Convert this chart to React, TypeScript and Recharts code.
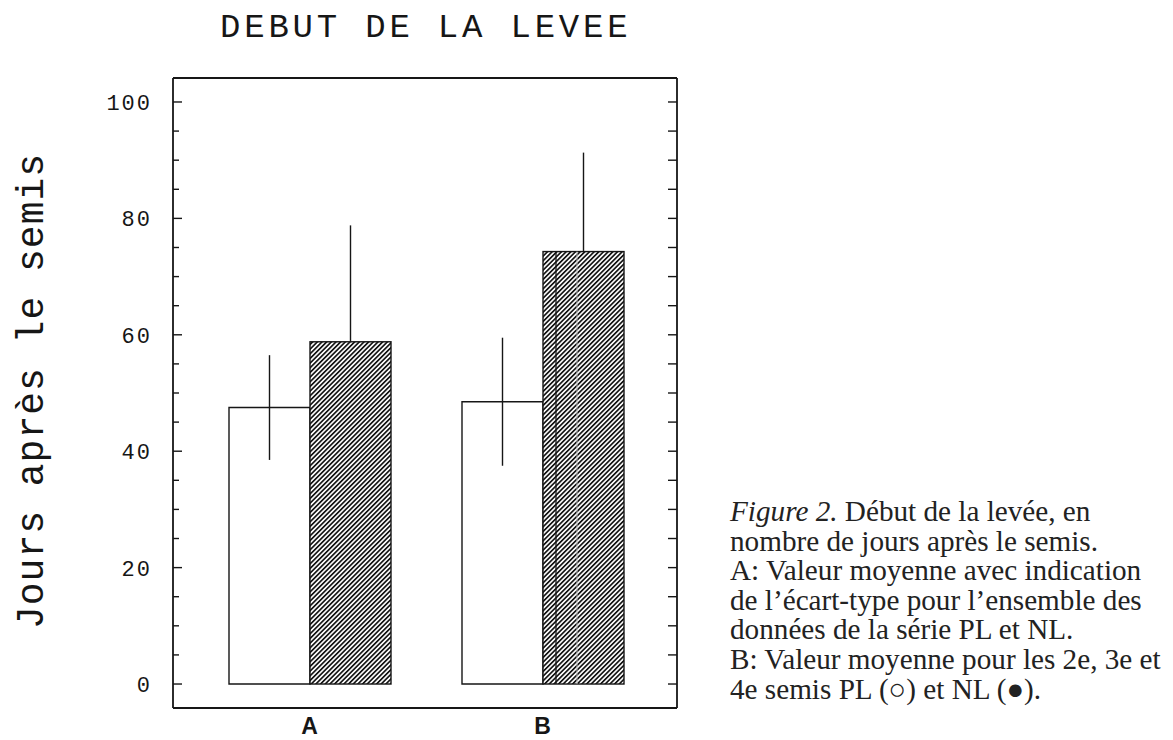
import { Bar, BarChart, ErrorBar, XAxis, YAxis } from "recharts";

// groups on the x axis
const categories = ["A", "B"];
// mean days after sowing, PL (open bars) and NL (hatched bars)
const plMeans = [47.5, 48.5];
const nlMeans = [58.8, 74.3];
// standard deviations (only the upper half shows above the hatched bars)
const plSd = [9, 11];
const nlSd = [20, 17];

const yTicks = [0, 5, 10, 15, 20, 25, 30, 35, 40, 45, 50, 55, 60, 65, 70, 75, 80, 85, 90, 95, 100];
const yLabelled = [0, 20, 40, 60, 80, 100];
const Y_MIN = -4.12;
const Y_MAX = 104.12;

const title = "DEBUT DE LA LEVEE";
const yTitle = "Jours après le semis";
const captionLines = [
  "Début de la levée, en",
  "nombre de jours après le semis.",
  "A: Valeur moyenne avec indication",
  "de l’écart-type pour l’ensemble des",
  "données de la série PL et NL.",
  "B: Valeur moyenne pour les 2e, 3e et",
  "4e semis PL (○) et NL (●).",
];

const data = categories.map((cat, i) => ({
  cat,
  pl: plMeans[i],
  nl: nlMeans[i],
  plErr: plSd[i],
  nlErr: [0, nlSd[i]],
}));

const PLOT_LEFT = 173;
const PLOT_RIGHT = 677;
const INK = "#161616";
const MONO = "'Liberation Mono', 'DejaVu Sans Mono', monospace";
const SERIF = "'Liberation Serif', 'DejaVu Serif', serif";
const frameLine = { stroke: INK, strokeWidth: 1.8 };

function YTick(props: any) {
  const { y, payload } = props;
  const v = payload.value as number;
  const major = yLabelled.includes(v);
  return (
    <g>
      <line x1={PLOT_LEFT} x2={PLOT_LEFT + (major ? 9 : 6)} y1={y} y2={y} stroke={INK} strokeWidth={1.4} />
      <line x1={PLOT_RIGHT} x2={PLOT_RIGHT - 9} y1={y} y2={y} stroke={INK} strokeWidth={1.4} />
      {major && (
        <text x={152} y={y} dy="0.36em" textAnchor="end" fontFamily={MONO} fontSize={22} letterSpacing={2} fill={INK}>
          {v}
        </text>
      )}
    </g>
  );
}

function XTick(props: any) {
  const { x, payload } = props;
  return (
    <text x={x} y={734} textAnchor="middle" fontFamily="'Liberation Sans', Arial, sans-serif" fontWeight="bold" fontSize={23} fill={INK}>
      {payload.value}
    </text>
  );
}

function HatchBar(props: any) {
  const { x, y, width, height, index } = props;
  return (
    <g>
      <rect x={x} y={y} width={width} height={height} fill="url(#hatch)" stroke={INK} strokeWidth={1.4} />
      {index === 1 && (
        <>
          <line x1={x + 13} x2={x + 13} y1={y} y2={y + height} stroke={INK} strokeWidth={1.3} />
          <line x1={x + 34} x2={x + 34} y1={y} y2={y + height} stroke="#bbb" strokeWidth={1} />
        </>
      )}
    </g>
  );
}

function YTitle() {
  return (
    <text
      x={43}
      y={391}
      transform="rotate(-90 43 391)"
      textAnchor="middle"
      fontFamily={MONO}
      fontSize={38}
      letterSpacing={1}
      fill={INK}
    >
      {yTitle}
    </text>
  );
}

export default function App() {
  return (
    <div style={{ position: "absolute", left: 0, top: 0, width: 1173, height: 740, background: "#fff", overflow: "hidden" }}>
      <BarChart
        width={700}
        height={740}
        data={data}
        barSize={81}
        barGap={0}
        margin={{ top: 77, right: 22, bottom: 0, left: 113 }}
      >
        <defs>
          <pattern id="hatch" patternUnits="userSpaceOnUse" width={3.3} height={3.3} patternTransform="rotate(45)">
            <rect x={0} y={0} width={3.3} height={3.3} fill="#fff" />
            <rect x={0} y={0} width={1.7} height={3.3} fill={INK} />
          </pattern>
        </defs>
        <XAxis
          dataKey="cat"
          height={32}
          padding={{ left: 20, right: 18 }}
          axisLine={frameLine}
          tickLine={false}
          tick={<XTick />}
        />
        <XAxis
          xAxisId="top"
          orientation="top"
          dataKey="cat"
          height={1}
          axisLine={frameLine}
          tickLine={false}
          tick={false}
        />
        <YAxis
          type="number"
          width={60}
          domain={[Y_MIN, Y_MAX]}
          allowDataOverflow
          ticks={yTicks}
          interval={0}
          axisLine={frameLine}
          tickLine={false}
          tick={<YTick />}
          label={<YTitle />}
        />
        <YAxis
          yAxisId="right"
          orientation="right"
          type="number"
          width={1}
          domain={[Y_MIN, Y_MAX]}
          allowDataOverflow
          axisLine={frameLine}
          tickLine={false}
          tick={false}
        />
        <Bar dataKey="pl" fill="#fff" stroke={INK} strokeWidth={1.4} isAnimationActive={false}>
          <ErrorBar dataKey="plErr" width={0} stroke={INK} strokeWidth={1.4} direction="y" />
        </Bar>
        <Bar dataKey="nl" shape={<HatchBar />} isAnimationActive={false}>
          <ErrorBar dataKey="nlErr" width={0} stroke={INK} strokeWidth={1.4} direction="y" />
        </Bar>
      </BarChart>
      <svg width={1173} height={740} style={{ position: "absolute", left: 0, top: 0, pointerEvents: "none" }}>
        <text x={220} y={37} fontFamily={MONO} fontSize={34} letterSpacing={3.8} fill={INK}>
          {title}
        </text>
        {captionLines.map((line, i) => (
          <text key={i} x={730} y={521 + i * 29.6} fontFamily={SERIF} fontSize={29.2} fill="#222">
            {i === 0 && <tspan fontStyle="italic">Figure 2. </tspan>}
            {i === 0 ? " " + line : line}
          </text>
        ))}
      </svg>
    </div>
  );
}
